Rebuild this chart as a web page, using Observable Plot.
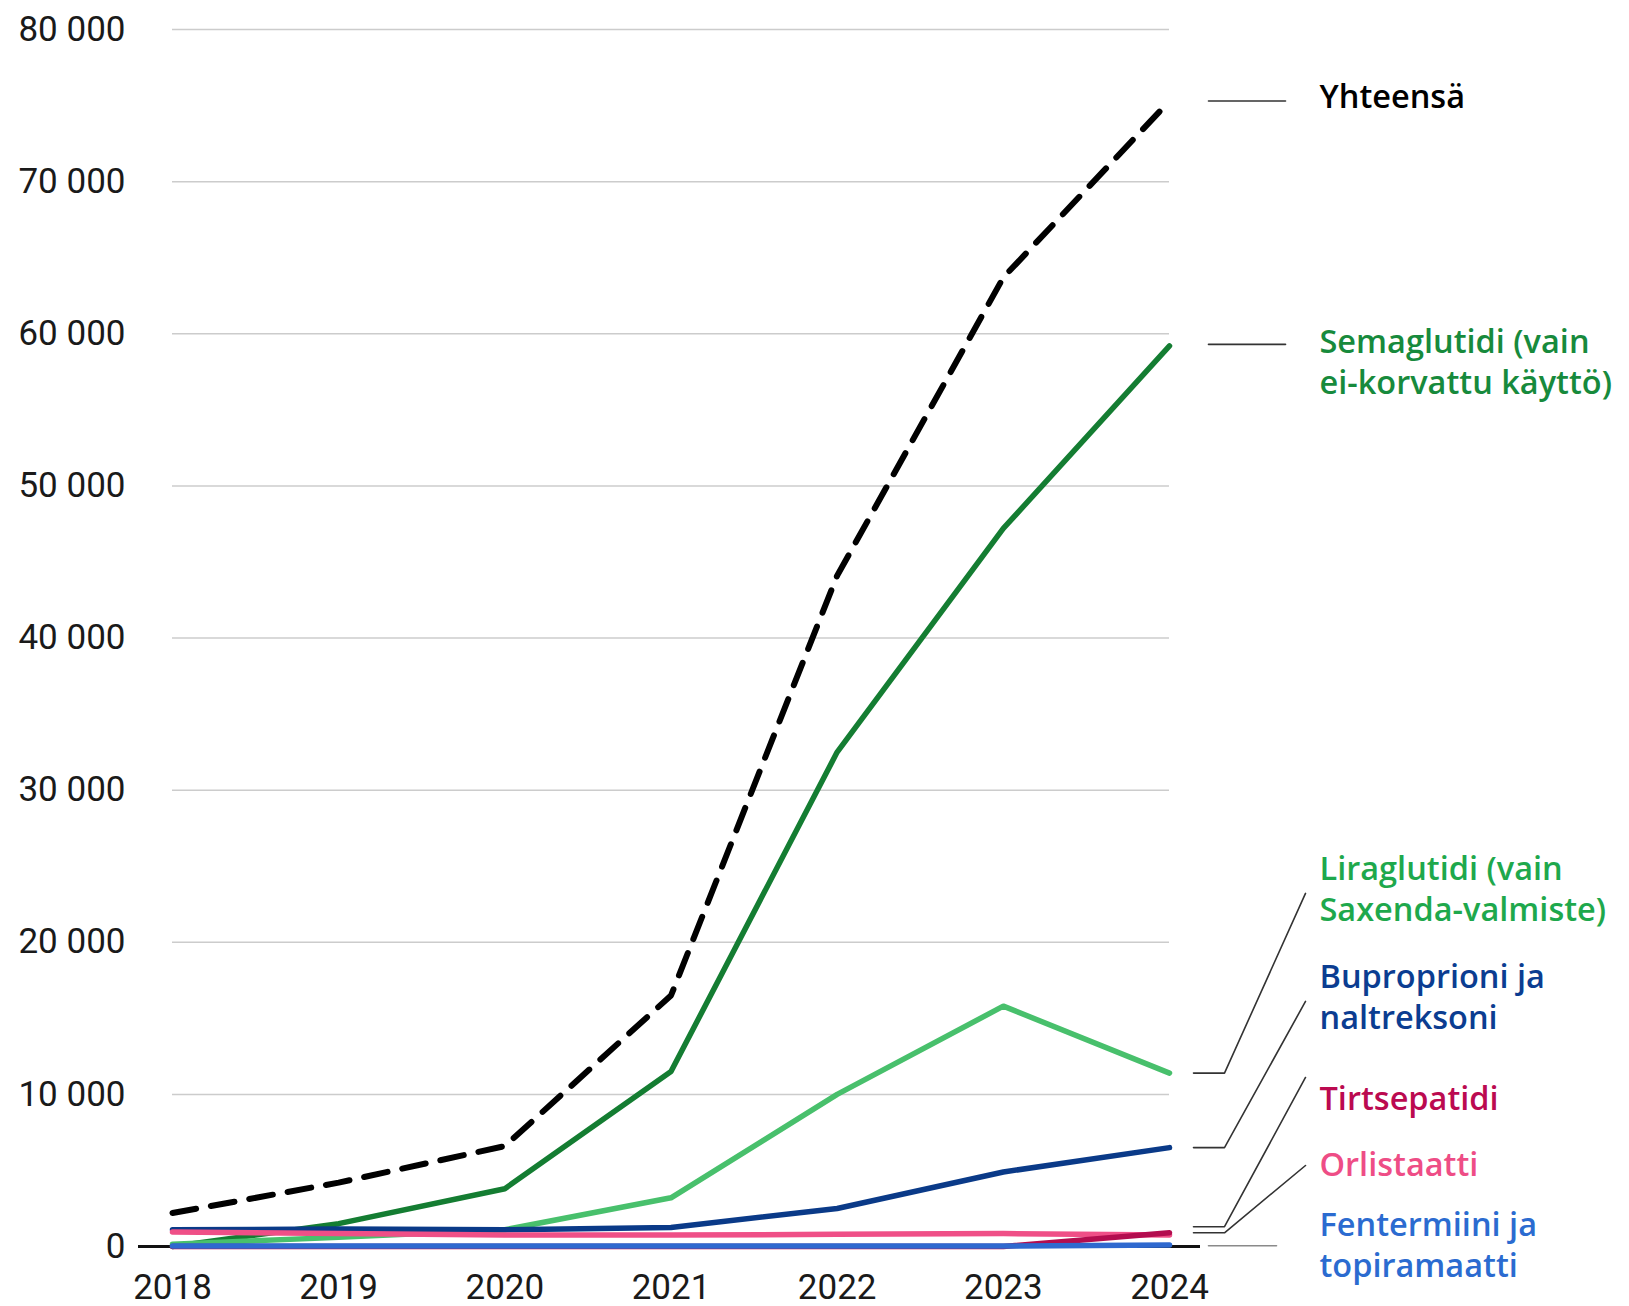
<!DOCTYPE html>
<html><head><meta charset="utf-8">
<script src="https://cdn.jsdelivr.net/npm/d3@7"></script>
<script src="https://cdn.jsdelivr.net/npm/@observablehq/plot@0.6"></script>
<style>html,body{margin:0;padding:0;background:#fff;overflow:hidden}</style>
</head><body><div id="chart"></div>
<script>
// ---- data ----
const years = [2018, 2019, 2020, 2021, 2022, 2023, 2024];
const total       = [2200, 4200, 6600, 16500, 44100, 63700, 75300];
const semaglutide = [0, 1500, 3800, 11500, 32500, 47200, 59200];
const liraglutide = [150, 600, 1100, 3200, 10000, 15800, 11400];
const bupropion   = [1100, 1150, 1100, 1250, 2500, 4900, 6500];
const orlistat    = [950, 850, 750, 750, 800, 850, 750];
const tirzepatide = [0, 0, 0, 0, 0, 0, 900];
const phentermine = [30, 30, 30, 30, 30, 30, 100];
const yTicks = [0, 10000, 20000, 30000, 40000, 50000, 60000, 70000, 80000];

const labels = [
  "Yhteensä",
  "Semaglutidi (vain\nei-korvattu käyttö)",
  "Liraglutidi (vain\nSaxenda-valmiste)",
  "Buproprioni ja\nnaltreksoni",
  "Tirtsepatidi",
  "Orlistaatti",
  "Fentermiini ja\ntopiramaatti"
];
const lineColors  = ["#000000", "#147d32", "#48c06c", "#0a3a88", "#b30d4f", "#ef4f87", "#2f69cf"];
const labelColors = ["#000000", "#178a3c", "#1ea84c", "#0b3d91", "#bb0a50", "#ee4d86", "#2b6bd0"];
const values = [total, semaglutide, liraglutide, bupropion, orlistat, tirzepatide, phentermine];
// annotation layout (label top, connector elbow level, connector target), in value units
const labelTop   = [76810, 60705, 26060, 18960, 10940, 6595, 2650];
const elbowY     = [75300, 59300, 11400, 6500, 1300, 900, 50];
const targetY    = [75300, 59300, 23210, 16110, 11110, 5325, 50];
// series index for each label
const labelSeries = [0, 1, 2, 3, 5, 4, 6];
// ---- layout ----
const W = 1629, H = 1306, mL = 172, mR = 460, mT = 29, mB = 60;
const pxPerYear = (W - mL - mR) / (years.length - 1);
const xo = px => years[years.length - 1] + px / pxPerYear;
const xl = px => years[0] - px / pxPerYear;

const rows = i => years.map((yr, k) => ({year: yr, value: values[i][k]}));

const marks = [
  Plot.ruleY(yTicks.filter(d => d > 0), {stroke: "#cccccc", strokeWidth: 1.5}),
  Plot.ruleY([0], {x1: () => xl(34), x2: () => xo(31), stroke: "#111", strokeWidth: 3}),
  Plot.axisY({ticks: yTicks, tickFormat: d => d3.format(",")(d).replace(/,/g, " "), tickSize: 0, tickPadding: 47, fontSize: 35, fill: "#1a1a1a"}),
  Plot.axisX({ticks: years, tickFormat: d => String(d), tickSize: 0, tickPadding: 28, fontSize: 35, fill: "#1a1a1a"})
];

// connectors
labels.forEach((lab, li) => {
  let pts;
  if (li <= 1) pts = [{x: xo(39), y: elbowY[li]}, {x: xo(116), y: elbowY[li]}];
  else if (li === 6) pts = [{x: xo(39), y: elbowY[li]}, {x: xo(107), y: elbowY[li]}];
  else pts = [{x: xo(24), y: elbowY[li]}, {x: xo(55), y: elbowY[li]}, {x: xo(136), y: targetY[li]}];
  marks.push(Plot.line(pts, {x: "x", y: "y", stroke: li === 6 ? "#8a8a8a" : "#333", strokeWidth: 1.6, curve: "linear"}));
});

// data lines
[0, 1, 2, 3, 4, 5, 6].forEach(si => {
  const li = labelSeries.indexOf(si);
  if (si === 0) {
    marks.push(Plot.line(rows(si), {x: "year", y: "value", stroke: lineColors[0], strokeWidth: 6, strokeDasharray: "24,15", strokeLinecap: "round"}));
  } else {
    marks.push(Plot.line(rows(si), {x: "year", y: "value", stroke: lineColors[li], strokeWidth: 5.5, strokeLinecap: "round"}));
  }
});

// labels
labels.forEach((lab, li) => {
  marks.push(Plot.text([lab], {
    x: () => xo(150), y: () => labelTop[li], text: d => d,
    textAnchor: "start", lineAnchor: "top", lineHeight: 1.28,
    fontSize: 32.5, fontWeight: 600, fill: labelColors[li],
    fontFamily: "'Open Sans', 'Noto Sans', sans-serif"
  }));
});

const chart = Plot.plot({
  width: W, height: H,
  marginLeft: mL, marginRight: mR, marginTop: mT, marginBottom: mB,
  style: {fontFamily: "Roboto, 'Noto Sans', sans-serif", background: "#fff", overflow: "visible"},
  x: {domain: [years[0], years[years.length - 1]], axis: null},
  y: {domain: [0, 80000], axis: null},
  marks
});
document.getElementById("chart").appendChild(chart);
</script>
</body></html>
